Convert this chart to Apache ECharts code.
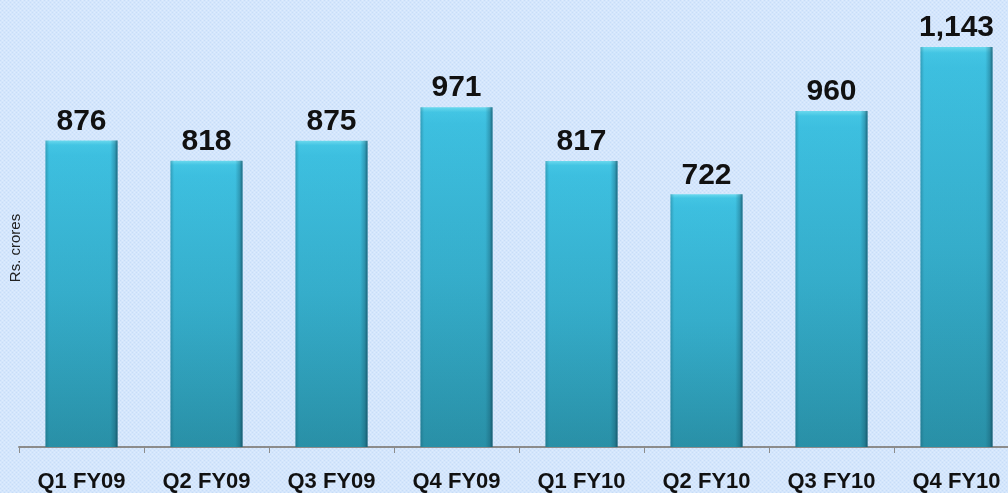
<!DOCTYPE html>
<html>
<head>
<meta charset="utf-8">
<script src="https://cdn.jsdelivr.net/npm/echarts@6/dist/echarts.min.js"></script>
<style>
html,body{margin:0;padding:0;overflow:hidden;width:1008px;height:493px;}
#chart{width:1019px;height:493px;}
</style>
</head>
<body>
<div id="chart"></div>
<script>
var categories = ['Q1 FY09','Q2 FY09','Q3 FY09','Q4 FY09','Q1 FY10','Q2 FY10','Q3 FY10','Q4 FY10'];
var values = [876, 818, 875, 971, 817, 722, 960, 1143];
var axisName = 'Rs. crores';

// dotted background pattern
var pc = document.createElement('canvas');
pc.width = 4; pc.height = 4;
var px = pc.getContext('2d');
px.fillStyle = '#d4e6fc';
px.fillRect(0,0,4,4);
px.fillStyle = '#c8ddf8';
px.fillRect(0,0,1,1); px.fillRect(2,2,1,1);
px.fillStyle = '#dfecfd';
px.fillRect(2,0,1,1); px.fillRect(0,2,1,1);

var chart = echarts.init(document.getElementById('chart'));
chart.setOption({
  backgroundColor: {image: pc, repeat: 'repeat'},
  animation: false,
  grid: {left: 19, right: 0, top: 27, bottom: 45, containLabel: false},
  graphic: [{
    type: 'text', x: 16, y: 248, rotation: Math.PI/2, originX: 0, originY: 0,
    style: {text: axisName, fontSize: 15, fontFamily: 'Liberation Sans, Arial', fill: '#222', align: 'center', verticalAlign: 'middle'}
  }],
  xAxis: {
    type: 'category', data: categories,
    axisLine: {lineStyle: {color: '#8c8c8c', width: 2}},
    axisTick: {show: true, length: 6, lineStyle: {color: '#8c8c8c', width: 1}},
    axisLabel: {color: '#111', fontSize: 22, fontWeight: 'bold', fontFamily: 'Liberation Sans, Arial', margin: 24}
  },
  yAxis: {type: 'value', min: 0, max: 1200, show: false, splitLine: {show: false}},
  series: [{
    type: 'bar', data: values, barWidth: 72,
    itemStyle: {color: new echarts.graphic.LinearGradient(0,0,0,1,[
      {offset: 0, color: '#6fe0f5'},
      {offset: 0.015, color: '#45cbea'},
      {offset: 0.05, color: '#3fc5e6'},
      {offset: 0.5, color: '#37b2d0'},
      {offset: 1, color: '#2a93aa'}
    ])},
    label: {show: true, position: 'top', distance: 4, color: '#111', fontSize: 30, fontWeight: 'bold', fontFamily: 'Liberation Sans, Arial',
      formatter: function(p){ return p.value.toLocaleString('en-US'); }}
  }, {
    type: 'bar', data: values, barWidth: 72, barGap: '-100%', silent: true,
    itemStyle: {color: new echarts.graphic.LinearGradient(0,0,1,0,[
      {offset: 0, color: 'rgba(20,80,100,0.35)'},
      {offset: 0.05, color: 'rgba(20,80,100,0.05)'},
      {offset: 0.9, color: 'rgba(20,80,100,0.05)'},
      {offset: 0.96, color: 'rgba(20,80,100,0.35)'},
      {offset: 1, color: 'rgba(15,60,80,0.7)'}
    ])}
  }]
});
</script>
</body>
</html>
